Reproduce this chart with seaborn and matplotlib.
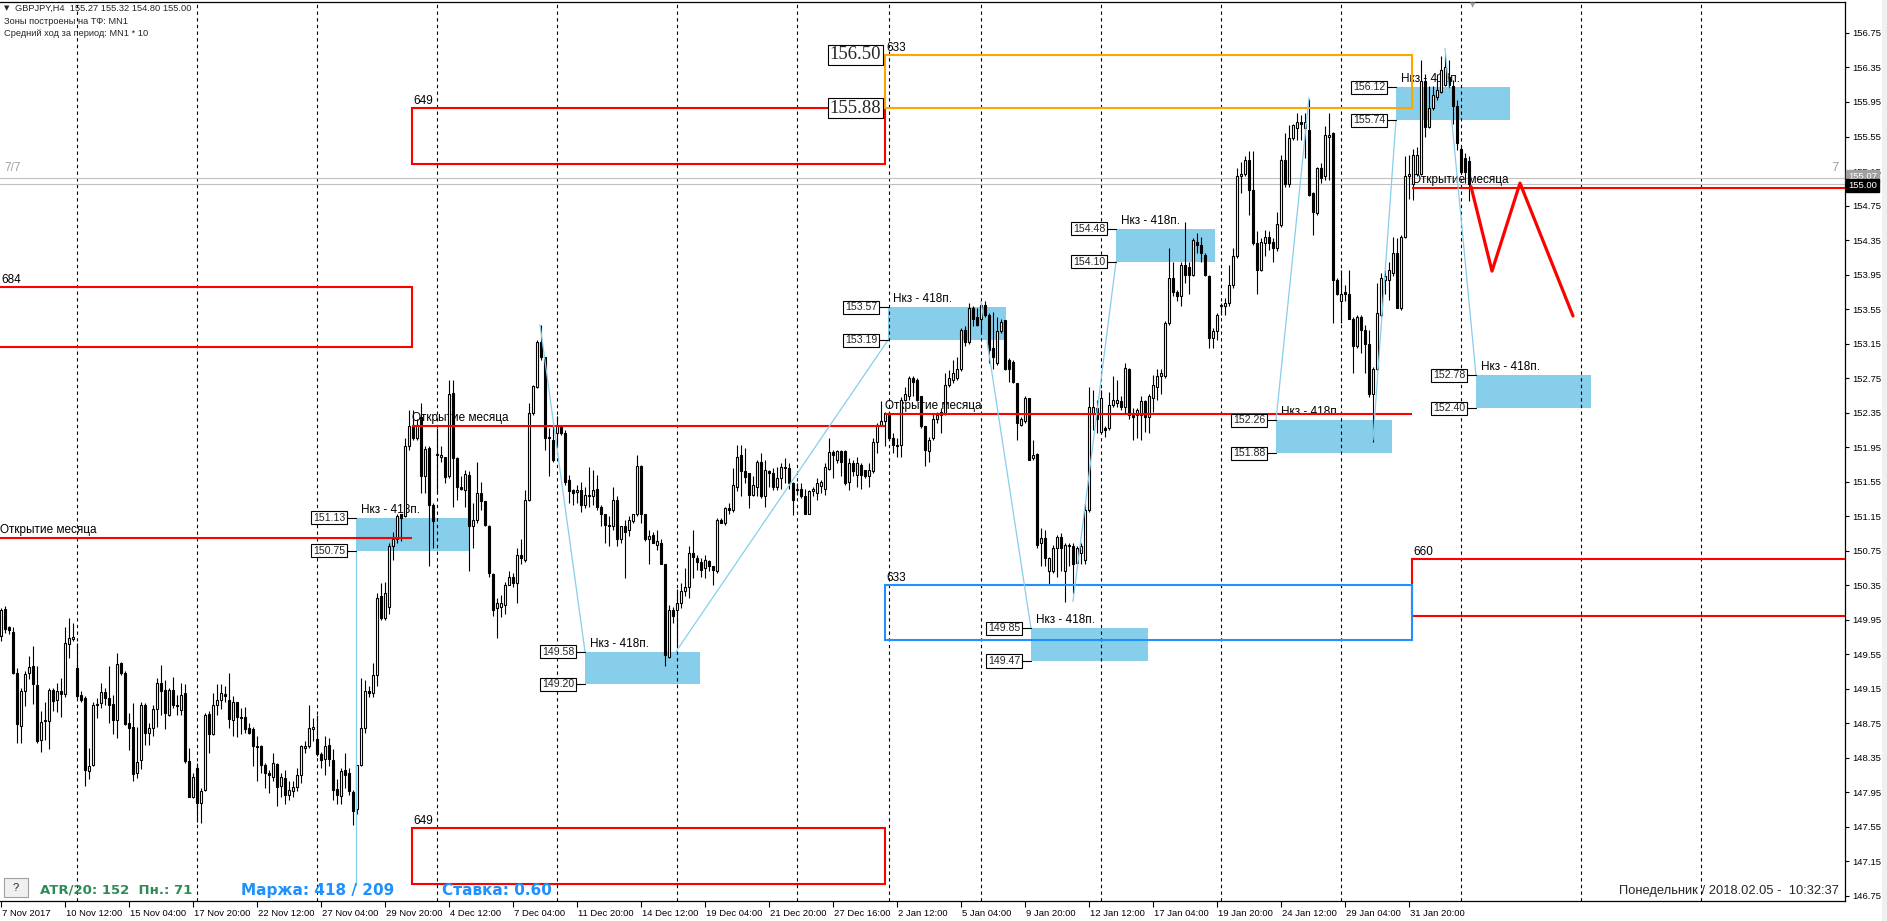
import matplotlib
matplotlib.use("Agg")
import matplotlib.pyplot as plt
from matplotlib.patches import Rectangle
from matplotlib.transforms import ScaledTranslation, blended_transform_factory
import pandas as pd
import seaborn as sns

W, H = 1887, 921

# GBPJPY H4, bar 0 = 7 Nov 2017 20:00, last bar = 5 Feb 2018 08:00
opens = [
    149.76, 150.07, 149.86, 149.81, 149.33, 148.72, 149.12, 149.33, 149.41, 149.19,
    148.56, 148.77, 148.77, 149.13, 149.02, 149.12, 149.09, 149.67, 149.73, 149.39,
    149.08, 149.04, 148.20, 148.26, 148.96, 148.98, 149.11, 149.04, 148.97, 148.79,
    149.45, 149.33, 148.75, 148.70, 148.17, 148.32, 148.96, 148.64, 148.69, 148.91,
    149.21, 149.13, 148.85, 149.14, 148.96, 148.90, 149.10, 148.31, 147.90, 148.23,
    147.83, 147.97, 148.86, 148.63, 148.96, 149.02, 149.09, 149.02, 148.79, 149.00,
    148.82, 148.82, 148.69, 148.68, 148.49, 148.48, 148.26, 148.17, 148.13, 148.28,
    148.02, 148.12, 147.92, 147.96, 148.01, 148.15, 148.46, 148.49, 148.68, 148.57,
    148.39, 148.33, 148.50, 148.32, 147.99, 147.91, 148.21, 148.17, 147.95, 147.76,
    148.27, 148.69, 149.12, 149.10, 149.31, 150.22, 149.97, 150.10, 150.80, 150.88,
    151.17, 151.15, 151.96, 152.21, 152.05, 152.30, 151.61, 151.94, 151.28, 151.86,
    151.84, 151.83, 151.61, 152.58, 151.82, 151.49, 151.45, 151.63, 151.03, 151.11,
    151.42, 151.32, 151.04, 150.48, 150.08, 150.10, 150.12, 150.35, 150.45, 150.37,
    150.70, 150.64, 151.34, 152.34, 152.65, 153.17, 153.00, 152.07, 152.03, 152.11,
    152.19, 152.11, 151.57, 151.45, 151.43, 151.45, 151.28, 151.40, 151.38, 151.46,
    151.26, 151.18, 151.05, 151.03, 151.34, 150.88, 151.03, 150.99, 151.09, 151.17,
    151.73, 151.17, 150.88, 150.93, 150.82, 150.84, 150.59, 149.52, 150.06, 150.06,
    150.14, 150.28, 150.33, 150.72, 150.66, 150.62, 150.55, 150.63, 150.57, 150.51,
    151.11, 151.07, 151.24, 151.22, 151.49, 151.86, 151.67, 151.65, 151.40, 151.49,
    151.78, 151.38, 151.67, 151.65, 151.49, 151.59, 151.71, 151.71, 151.53, 151.45,
    151.46, 151.38, 151.18, 151.44, 151.42, 151.50, 151.46, 151.70, 151.89, 151.80,
    151.90, 151.90, 151.55, 151.76, 151.63, 151.74, 151.69, 151.61, 151.67, 152.01,
    152.21, 152.25, 152.34, 152.05, 151.98, 151.98, 152.50, 152.54, 152.75, 152.73,
    152.54, 152.19, 151.90, 152.05, 152.27, 152.32, 152.34, 152.67, 152.73, 152.75,
    152.85, 153.31, 153.17, 153.56, 153.46, 153.44, 153.60, 153.48, 153.10, 152.92,
    153.29, 153.42, 152.96, 152.94, 152.69, 152.21, 152.25, 152.52, 151.82, 151.87,
    150.84, 150.90, 150.51, 150.51, 150.78, 150.91, 150.51, 150.82, 150.80, 150.61,
    150.72, 150.64, 151.22, 152.35, 152.40, 152.13, 152.17, 152.17, 152.44, 152.46,
    152.49, 152.42, 152.85, 152.32, 152.32, 152.32, 152.48, 152.30, 152.52, 152.65,
    152.77, 152.77, 153.39, 153.91, 153.75, 153.70, 154.06, 154.04, 153.95, 154.33,
    154.29, 154.18, 153.93, 153.21, 153.29, 153.58, 153.58, 153.62, 153.83, 154.16,
    155.09, 155.12, 155.28, 154.93, 154.31, 154.00, 154.31, 154.39, 154.33, 154.26,
    154.52, 155.28, 155.00, 155.53, 155.65, 155.72, 155.65, 155.63, 154.89, 154.66,
    155.18, 155.09, 155.55, 155.59, 153.89, 153.64, 153.75, 153.73, 153.43, 153.12,
    153.46, 153.31, 153.15, 152.56, 152.85, 153.48, 153.89, 153.89, 153.97, 154.20,
    153.56, 154.39, 155.09, 155.00, 155.12, 155.12, 156.19, 155.66, 155.88, 156.01,
    156.07, 156.15, 156.24, 156.13, 155.90, 155.41, 155.30, 155.27,
]
highs = [
    150.09, 150.11, 149.88, 149.86, 149.39, 149.16, 149.36, 149.53, 149.64, 149.41,
    148.89, 149.00, 149.16, 149.16, 149.22, 149.27, 149.86, 149.97, 149.91, 149.68,
    149.12, 149.06, 148.46, 148.99, 149.04, 149.21, 149.16, 149.41, 149.08, 149.56,
    149.46, 149.35, 148.87, 148.98, 148.71, 149.00, 148.98, 148.75, 148.96, 149.27,
    149.43, 149.25, 149.16, 149.29, 149.08, 149.22, 149.20, 148.46, 148.17, 148.29,
    148.00, 148.87, 148.89, 149.10, 149.20, 149.20, 149.18, 149.33, 149.07, 149.00,
    148.93, 148.94, 148.75, 148.71, 148.60, 148.50, 148.29, 148.21, 148.40, 148.29,
    148.17, 148.21, 148.08, 148.08, 148.23, 148.50, 148.54, 148.96, 148.81, 148.85,
    148.42, 148.60, 148.58, 148.45, 148.10, 148.23, 148.40, 148.23, 147.98, 148.27,
    149.27, 149.25, 149.18, 149.45, 150.26, 150.37, 150.39, 150.84, 150.97, 151.18,
    151.18, 152.05, 152.38, 152.38, 152.27, 152.46, 151.96, 151.96, 151.30, 152.17,
    151.96, 151.84, 152.73, 152.73, 151.84, 151.61, 151.69, 151.67, 151.30, 151.78,
    151.55, 151.32, 151.05, 150.49, 150.20, 150.24, 150.39, 150.51, 150.49, 150.78,
    150.88, 151.45, 152.46, 152.67, 153.19, 153.37, 153.00, 152.17, 152.21, 152.31,
    152.21, 152.15, 151.63, 151.47, 151.51, 151.55, 151.49, 151.72, 151.69, 151.63,
    151.28, 151.18, 151.15, 151.49, 151.38, 151.03, 151.11, 151.15, 151.18, 151.86,
    151.74, 151.18, 150.99, 150.97, 150.99, 150.88, 150.59, 150.12, 150.10, 150.30,
    150.37, 150.55, 150.80, 150.99, 150.70, 150.66, 150.70, 150.64, 150.57, 151.13,
    151.13, 151.26, 151.30, 151.71, 151.98, 151.98, 151.94, 151.65, 151.61, 151.80,
    151.88, 151.80, 151.69, 151.71, 151.72, 151.76, 151.82, 151.76, 151.55, 151.53,
    151.53, 151.47, 151.45, 151.49, 151.59, 151.57, 151.76, 152.05, 151.92, 151.92,
    151.92, 151.92, 151.82, 151.80, 151.84, 151.76, 151.69, 151.76, 152.05, 152.23,
    152.48, 152.36, 152.36, 152.11, 152.05, 152.53, 152.65, 152.77, 152.77, 152.75,
    152.54, 152.19, 152.07, 152.34, 152.36, 152.40, 152.81, 152.84, 152.96, 153.00,
    153.33, 153.35, 153.62, 153.58, 153.56, 153.62, 153.64, 153.50, 153.52, 153.46,
    153.44, 153.42, 152.98, 152.96, 152.69, 152.30, 152.54, 152.52, 152.03, 151.88,
    151.01, 150.99, 150.68, 150.82, 150.93, 150.95, 150.84, 150.84, 150.84, 150.80,
    150.84, 151.30, 152.65, 152.61, 152.50, 152.61, 152.19, 152.59, 152.77, 152.73,
    152.54, 152.92, 152.87, 152.40, 152.40, 152.54, 152.50, 152.57, 152.79, 152.86,
    152.86, 153.41, 154.26, 154.10, 153.77, 154.10, 154.56, 154.10, 154.37, 154.43,
    154.39, 154.20, 153.95, 153.33, 153.50, 153.62, 153.68, 154.06, 154.26, 155.18,
    155.26, 155.32, 155.38, 155.38, 154.45, 154.37, 154.47, 154.45, 154.37, 154.68,
    155.34, 155.59, 155.68, 155.70, 155.82, 155.80, 155.82, 155.99, 154.91, 155.20,
    155.24, 155.67, 155.82, 155.60, 153.91, 154.00, 153.83, 154.00, 153.46, 153.48,
    153.48, 153.37, 153.31, 152.88, 153.85, 153.97, 154.00, 154.10, 154.39, 154.37,
    154.41, 155.32, 155.34, 155.41, 155.43, 156.44, 156.28, 156.13, 156.13, 156.28,
    156.48, 156.51, 156.44, 156.20, 155.97, 155.43, 155.36, 155.32,
]
lows = [
    149.70, 149.80, 149.78, 149.32, 148.52, 148.52, 148.95, 149.26, 148.97, 148.52,
    148.42, 148.55, 148.45, 148.89, 148.88, 148.82, 149.05, 149.50, 149.70, 149.04,
    149.00, 148.02, 148.10, 148.25, 148.81, 148.93, 148.96, 148.75, 148.62, 148.58,
    149.31, 148.73, 148.44, 148.08, 148.11, 148.22, 148.50, 148.50, 148.60, 148.71,
    148.85, 148.68, 148.83, 148.93, 148.85, 148.85, 148.29, 147.90, 147.88, 147.61,
    147.59, 147.96, 148.40, 148.61, 148.85, 148.92, 148.99, 148.69, 148.60, 148.59,
    148.62, 148.64, 148.62, 148.25, 148.08, 148.17, 148.00, 147.94, 148.08, 147.79,
    147.90, 147.81, 147.86, 147.90, 147.96, 148.06, 148.40, 148.46, 148.54, 148.37,
    148.23, 148.15, 148.25, 147.86, 147.81, 147.81, 148.00, 147.92, 147.57, 147.70,
    148.25, 148.64, 149.05, 149.05, 149.18, 149.95, 149.95, 150.01, 150.64, 150.84,
    150.86, 151.14, 151.92, 152.03, 152.03, 151.42, 151.42, 150.57, 150.78, 151.42,
    151.78, 151.53, 151.59, 151.26, 151.34, 151.45, 151.26, 150.51, 150.78, 151.07,
    151.22, 151.03, 150.45, 149.99, 149.74, 149.98, 150.01, 150.35, 150.33, 150.14,
    150.60, 150.62, 151.32, 152.32, 152.63, 152.96, 151.92, 151.61, 151.78, 151.96,
    152.09, 151.51, 151.30, 151.28, 151.30, 151.20, 151.24, 151.26, 151.28, 151.22,
    151.03, 150.84, 150.80, 150.99, 150.80, 150.84, 150.43, 150.92, 151.07, 151.15,
    151.07, 150.86, 150.59, 150.84, 150.76, 150.59, 149.41, 149.50, 149.91, 149.66,
    150.08, 150.22, 150.20, 150.43, 150.53, 150.45, 150.43, 150.51, 150.35, 150.49,
    151.07, 151.05, 151.18, 151.20, 151.44, 151.38, 151.53, 151.24, 151.38, 151.38,
    151.36, 151.26, 151.49, 151.45, 151.45, 151.47, 151.53, 151.47, 151.16, 151.40,
    151.36, 151.17, 151.17, 151.38, 151.34, 151.42, 151.40, 151.69, 151.59, 151.76,
    151.61, 151.51, 151.45, 151.61, 151.49, 151.47, 151.59, 151.49, 151.65, 151.88,
    152.19, 151.96, 152.03, 151.88, 151.84, 151.84, 152.48, 152.50, 152.54, 152.48,
    152.17, 151.73, 151.78, 152.03, 152.23, 152.11, 152.32, 152.65, 152.69, 152.73,
    152.83, 153.12, 153.15, 153.35, 153.35, 153.27, 153.46, 152.92, 152.86, 152.90,
    153.27, 152.84, 152.71, 152.69, 152.03, 152.19, 152.23, 151.80, 151.80, 150.78,
    150.57, 150.57, 150.35, 150.49, 150.45, 150.51, 150.16, 150.57, 150.26, 150.59,
    150.59, 150.59, 151.20, 152.15, 152.11, 152.11, 152.07, 152.15, 152.42, 152.42,
    152.38, 152.34, 152.27, 152.03, 152.05, 152.03, 152.13, 152.11, 152.36, 152.50,
    152.57, 152.75, 153.37, 153.70, 153.64, 153.58, 153.85, 153.73, 153.93, 154.20,
    154.10, 153.93, 153.10, 153.10, 153.19, 153.48, 153.48, 153.58, 153.79, 154.14,
    154.89, 155.09, 154.64, 154.29, 153.72, 153.99, 154.16, 154.24, 154.10, 154.22,
    154.50, 154.97, 154.97, 155.51, 155.51, 155.51, 155.30, 154.86, 154.41, 154.64,
    155.01, 155.05, 155.05, 153.39, 153.71, 153.39, 153.64, 153.43, 152.81, 153.10,
    153.04, 152.81, 152.53, 152.01, 152.84, 153.46, 153.73, 153.66, 153.93, 153.56,
    153.54, 154.37, 154.83, 154.81, 155.09, 155.10, 155.55, 155.65, 155.86, 155.97,
    156.05, 156.13, 156.11, 155.70, 155.39, 155.12, 155.01, 154.80,
]
closes = [
    150.06, 149.84, 149.83, 149.33, 148.74, 149.12, 149.32, 149.40, 149.20, 148.54,
    148.76, 148.78, 149.14, 149.01, 149.12, 149.09, 149.68, 149.74, 149.75, 149.07,
    149.02, 148.21, 148.25, 148.96, 148.97, 149.11, 149.04, 148.96, 148.79, 149.44,
    149.33, 148.74, 148.69, 148.16, 148.30, 148.96, 148.64, 148.69, 148.91, 149.22,
    149.12, 148.87, 149.13, 148.96, 148.95, 149.08, 148.31, 147.90, 148.13, 147.83,
    147.96, 148.85, 148.63, 148.96, 149.02, 149.10, 149.07, 148.80, 149.00, 148.82,
    148.81, 148.68, 148.64, 148.48, 148.47, 148.27, 148.17, 148.15, 148.29, 148.01,
    148.13, 147.92, 147.97, 148.01, 148.15, 148.48, 148.49, 148.69, 148.71, 148.39,
    148.32, 148.49, 148.33, 147.98, 147.92, 148.20, 148.15, 147.96, 147.73, 148.27,
    148.69, 149.12, 149.10, 149.31, 150.20, 149.97, 150.26, 150.80, 150.89, 151.15,
    151.13, 151.96, 152.19, 152.05, 152.21, 151.61, 151.93, 151.28, 151.09, 151.87,
    151.86, 151.60, 152.57, 151.82, 151.49, 151.47, 151.64, 151.03, 151.11, 151.42,
    151.32, 151.05, 150.49, 150.06, 150.14, 150.14, 150.35, 150.45, 150.37, 150.70,
    150.66, 151.34, 152.34, 152.66, 153.17, 153.00, 152.05, 152.05, 151.80, 152.19,
    152.11, 151.55, 151.44, 151.42, 151.45, 151.28, 151.39, 151.38, 151.45, 151.26,
    151.17, 151.05, 151.03, 151.34, 150.88, 151.03, 150.97, 151.10, 151.17, 151.73,
    151.17, 150.88, 150.92, 150.84, 150.86, 150.59, 149.54, 150.06, 149.99, 150.14,
    150.28, 150.33, 150.72, 150.68, 150.62, 150.53, 150.64, 150.57, 150.53, 151.11,
    151.07, 151.24, 151.22, 151.51, 151.84, 151.67, 151.60, 151.40, 151.51, 151.78,
    151.38, 151.69, 151.65, 151.49, 151.59, 151.72, 151.72, 151.53, 151.34, 151.46,
    151.38, 151.18, 151.44, 151.46, 151.53, 151.55, 151.72, 151.89, 151.86, 151.90,
    151.78, 151.53, 151.77, 151.67, 151.76, 151.63, 151.61, 151.69, 152.01, 152.21,
    152.25, 152.34, 152.05, 151.98, 151.96, 152.50, 152.56, 152.75, 152.71, 152.50,
    152.19, 151.92, 152.03, 152.28, 152.32, 152.36, 152.67, 152.75, 152.81, 152.85,
    153.31, 153.17, 153.56, 153.44, 153.37, 153.60, 153.48, 153.08, 153.00, 153.29,
    153.40, 152.86, 152.85, 152.71, 152.23, 152.27, 152.52, 151.80, 151.86, 150.82,
    150.90, 150.66, 150.66, 150.78, 150.91, 150.78, 150.82, 150.80, 150.59, 150.78,
    150.80, 151.22, 152.42, 152.42, 152.27, 152.52, 152.15, 152.44, 152.50, 152.50,
    152.42, 152.87, 152.32, 152.30, 152.38, 152.48, 152.30, 152.54, 152.67, 152.77,
    152.81, 153.39, 153.91, 153.75, 153.70, 154.06, 153.95, 153.95, 154.35, 154.29,
    154.20, 153.95, 153.21, 153.29, 153.48, 153.60, 153.62, 153.83, 154.16, 155.09,
    155.12, 155.28, 154.93, 154.31, 154.00, 154.33, 154.39, 154.31, 154.26, 154.54,
    155.28, 155.00, 155.53, 155.68, 155.72, 155.70, 155.72, 154.87, 154.68, 155.18,
    155.07, 155.57, 155.57, 153.89, 153.73, 153.73, 153.73, 153.43, 153.12, 153.46,
    153.31, 153.15, 152.56, 152.86, 153.50, 153.91, 153.93, 154.00, 154.20, 153.56,
    154.39, 155.09, 155.11, 155.34, 155.34, 156.19, 155.66, 155.88, 156.03, 156.09,
    156.32, 156.36, 156.15, 155.90, 155.47, 155.14, 155.14, 155.00,
]

label_bars = [0, 16, 32, 48, 64, 80, 96, 112, 128, 144, 160, 176,
              192, 208, 224, 240, 256, 272, 288, 304, 320, 336, 352]
time_labels = ["7 Nov 2017", "10 Nov 12:00", "15 Nov 04:00", "17 Nov 20:00",
               "22 Nov 12:00", "27 Nov 04:00", "29 Nov 20:00", "4 Dec 12:00",
               "7 Dec 04:00", "11 Dec 20:00", "14 Dec 12:00", "19 Dec 04:00",
               "21 Dec 20:00", "27 Dec 16:00", "2 Jan 12:00", "5 Jan 04:00",
               "9 Jan 20:00", "12 Jan 12:00", "17 Jan 04:00", "19 Jan 20:00",
               "24 Jan 12:00", "29 Jan 04:00", "31 Jan 20:00"]
price_ticks = [146.75, 147.15, 147.55, 147.95, 148.35, 148.75, 149.15, 149.55,
               149.95, 150.35, 150.75, 151.15, 151.55, 151.95, 152.35, 152.75,
               153.15, 153.55, 153.95, 154.35, 154.75, 155.15, 155.55, 155.95,
               156.35, 156.75]
week_bars = [19, 49, 79, 109, 139, 169, 199, 222, 245, 275, 305, 335, 365, 395, 425]

bid, ask = 155.00, 155.07

# monthly open lines
month_from = [-2, 102.75, 221, 352.75]
month_to = [102.75, 221, 352.75, 470]
month_open = [150.90, 152.20, 152.33, 154.95]

# MN1 zones
zone_from = [-5, 102.75, 102.75, 352.75, 221, 221]
zone_to = [102.75, 221, 221, 480, 352.75, 352.75]
zone_hi = [153.80, 155.88, 147.53, 150.65, 156.50, 150.35]
zone_lo = [153.116, 155.231, 146.881, 149.99, 155.88, 149.717]
zone_pips = ["684", "649", "649", "660", "633", "633"]
zone_colors = ["#FF0000", "#FF0000", "#FF0000", "#FF0000", "#FFA500", "#1E90FF"]

# "Нкз" boxes
nkz_from = [88.75, 146, 221.75, 257.5, 278.75, 318.75, 348.75, 368.75]
nkz_to = [117, 174.75, 251.25, 286.75, 303.5, 347.75, 377.25, 397.5]
nkz_hi = [151.13, 149.58, 153.57, 149.85, 154.48, 152.26, 156.12, 152.78]
nkz_lo = [150.75, 149.20, 153.19, 149.47, 154.10, 151.88, 155.74, 152.40]

# thin zigzag legs
zz_bar_a = [88.75, 134.75, 168.75, 245, 268, 318.75, 343, 361]
zz_price_a = [146.88, 153.37, 149.58, 153.64, 150.16, 152.26, 152.03, 156.57]
zz_bar_b = [88.75, 146, 221.75, 257.5, 278.75, 327, 348.75, 368.75]
zz_price_b = [150.75, 149.58, 153.19, 149.85, 154.10, 156.00, 155.74, 152.78]

# red forecast path
fc_bar = [367.5, 372.75, 379.75, 393]
fc_price = [154.97, 153.99, 155.01, 153.47]

sns.set_theme(style="white")
plt.rcParams["font.family"] = ["Liberation Sans", "DejaVu Sans"]

PX_X = 0.25          # one pixel in bar units
PX_Y = 1 / 86.27     # one pixel in price units

fig = plt.figure(figsize=(W / 100, H / 100), dpi=100)
fig.patch.set_facecolor("white")
ax = fig.add_axes([0, 20 / H, 1845 / W, 899 / H])
ax.set_facecolor("white")

df = pd.DataFrame({"open": opens, "high": highs, "low": lows, "close": closes})
df["bar"] = range(len(df))
up = df["close"] >= df["open"]
body = (df["close"] - df["open"]).abs().clip(lower=0.012)
base = df[["open", "close"]].min(axis=1)

# nkz boxes (background)
for x0, x1, hi, lo in zip(nkz_from, nkz_to, nkz_hi, nkz_lo):
    ax.add_patch(Rectangle((x0, lo), x1 - x0, hi - lo, facecolor="#87CEEB",
                           edgecolor="none", zorder=1))

for wb in week_bars:
    ax.axvline(wb - 0.1, color="black", lw=0.8, ls=(0, (3, 3)), zorder=1.2)

ax.axhline(ask, color="#C0C0C0", lw=0.8, zorder=1.3)
ax.axhline(bid, color="#C0C0C0", lw=0.8, zorder=1.3)

# month open lines and texts
for x0, x1, p in zip(month_from, month_to, month_open):
    ax.plot([x0, x1], [p, p], color="#FF0000", lw=1.5, zorder=4, solid_capstyle="butt")
    ax.text(max(x0, -0.25) + 0.1, p + 5 * PX_Y, "Открытие месяца", fontsize=8.5,
            color="black", va="baseline", ha="left", zorder=2)

# candles
ax.vlines(df["bar"], df["low"], df["high"], color="black", lw=0.8, zorder=3)
ax.bar(df["bar"][up], body[up], bottom=base[up], width=0.52, color="white",
       edgecolor="black", linewidth=0.8, zorder=3.1)
ax.bar(df["bar"][~up], body[~up], bottom=base[~up], width=0.52, color="black",
       edgecolor="black", linewidth=0.8, zorder=3.1)

# zones
for x0, x1, hi, lo, lab, col in zip(zone_from, zone_to, zone_hi, zone_lo, zone_pips, zone_colors):
    ax.add_patch(Rectangle((x0, lo), x1 - x0, hi - lo, fill=False, edgecolor=col,
                           lw=1.5, zorder=4))
    ax.text(max(x0, -0.25) + 0.3, hi + 4 * PX_Y, lab, fontsize=8.5, color="black",
            va="baseline", ha="left", zorder=2)

# big price tags on the orange zone
for p in [zone_hi[4], zone_lo[4]]:
    ax.text(zone_from[4] - 1.0, p, f"{p:.2f}", fontsize=13.5, family="Liberation Serif",
            ha="right", va="center", zorder=6,
            bbox=dict(boxstyle="square,pad=0.08", fc="white", ec="black", lw=0.8))

# nkz labels and tags
for x0, hi, lo in zip(nkz_from, nkz_hi, nkz_lo):
    ax.text(x0 + 5 * PX_X, hi + 5 * PX_Y, "Нкз - 418п.", fontsize=8.5, color="black",
            va="baseline", ha="left", zorder=2)
    for p in (hi, lo):
        ax.plot([x0 - 9 * PX_X, x0], [p, p], color="black", lw=0.8, zorder=5)
        ax.text(x0 - 11 * PX_X, p, f"{p:.2f}", fontsize=7.6, ha="right", va="center",
                zorder=6, bbox=dict(boxstyle="square,pad=0.15", fc="white", ec="black", lw=0.8))

# zigzag legs
n = len(zz_bar_a)
zz = pd.DataFrame({"seg": list(range(n)) * 2,
                   "bar": zz_bar_a + zz_bar_b,
                   "price": zz_price_a + zz_price_b})
sns.lineplot(data=zz, x="bar", y="price", units="seg", estimator=None, sort=False,
             color="#87CEEB", lw=0.9, ax=ax, legend=False, zorder=4)

# forecast
fc = pd.DataFrame({"bar": fc_bar, "price": fc_price})
sns.lineplot(data=fc, x="bar", y="price", sort=False, estimator=None,
             color="#FF0000", lw=2.3, ax=ax, legend=False, zorder=5)

ax.set_xlim(-0.25, 461.0)
ax.set_ylim(146.689, 157.109)
ax.set_xlabel("")
ax.set_ylabel("")

for s in ["top", "right", "bottom"]:
    ax.spines[s].set_visible(True)
    ax.spines[s].set_color("black")
    ax.spines[s].set_linewidth(0.9)
ax.spines["left"].set_visible(False)

ax.yaxis.tick_right()
ax.set_yticks(price_ticks)
ax.set_yticklabels([f"{p:.2f}" for p in price_ticks])
ax.set_xticks(label_bars)
ax.set_xticklabels(time_labels, ha="left")
ax.tick_params(axis="y", which="both", right=True, left=False, labelright=True,
               labelleft=False, direction="out", length=3, width=0.8, pad=2,
               labelsize=6.8, colors="black")
ax.tick_params(axis="x", which="both", bottom=True, top=False, direction="out",
               length=4, width=0.8, pad=1.5, labelsize=6.8, colors="black")
for lbl in ax.get_xticklabels():
    lbl.set_transform(lbl.get_transform() + ScaledTranslation(1.5 / 100, 0, fig.dpi_scale_trans))

# bid / ask tags on the price scale
blend = blended_transform_factory(ax.transAxes, ax.transData)
ax.text(1.0 + 3 / 1845, ask + 0.02, f"{ask:.2f}", transform=blend, fontsize=6.8,
        color="white", ha="left", va="center", zorder=7, clip_on=False,
        bbox=dict(boxstyle="square,pad=0.2", fc="#A0A0A0", ec="#A0A0A0"))
ax.text(1.0 + 3 / 1845, bid - 0.02, f"{bid:.2f}", transform=blend, fontsize=6.8,
        color="white", ha="left", va="center", zorder=8, clip_on=False,
        bbox=dict(boxstyle="square,pad=0.2", fc="black", ec="black"))


def fpos(x, y):
    return x / W, 1 - y / H


# header
fig.text(*fpos(4, 8), "▼", fontsize=5, va="center", ha="left", family="DejaVu Sans")
fig.text(*fpos(15, 8), "GBPJPY,H4  155.27 155.32 154.80 155.00", fontsize=6.7, va="center")
fig.text(*fpos(4, 22), "Зоны построены на ТФ: MN1", fontsize=6.7, va="center")
fig.text(*fpos(4, 34), "Средний ход за период: MN1 * 10", fontsize=6.7, va="center")
fig.text(*fpos(4, 168), "7/7", fontsize=8.5, color="#A0A0A0", va="center")
fig.text(*fpos(1839, 168), "7", fontsize=9.5, color="#A0A0A0", va="center", ha="right")
fig.text(*fpos(1473, 5), "▼", fontsize=5, color="#A0A0A0", va="center", ha="center",
         family="DejaVu Sans")

# footer
fig.patches.append(Rectangle(fpos(4, 897), 24 / W, 19 / H, transform=fig.transFigure,
                             facecolor="#F0F0F0", edgecolor="#A0A0A0", lw=0.8, zorder=5))
fig.text(*fpos(16, 887.5), "?", fontsize=8, va="center", ha="center", zorder=6)
fig.text(*fpos(40, 890), "ATR/20: 152  Пн.: 71", fontsize=9.5, weight="bold",
         color="#2E8B57", va="center", family="DejaVu Sans")
fig.text(*fpos(241, 890), "Маржа: 418 / 209", fontsize=11, weight="bold",
         color="#1E90FF", va="center", family="DejaVu Sans")
fig.text(*fpos(442, 890), "Ставка: 0.60", fontsize=11, weight="bold",
         color="#1E90FF", va="center", family="DejaVu Sans")
fig.text(*fpos(1839, 891), "Понедельник / 2018.02.05 -  10:32:37", fontsize=9.3,
         va="center", ha="right")

fig.patches.append(Rectangle((1882 / W, 0), 5 / W, 1, transform=fig.transFigure,
                             facecolor="#F0F0F0", edgecolor="none", zorder=0))

fig.savefig("out.png", dpi=100)
